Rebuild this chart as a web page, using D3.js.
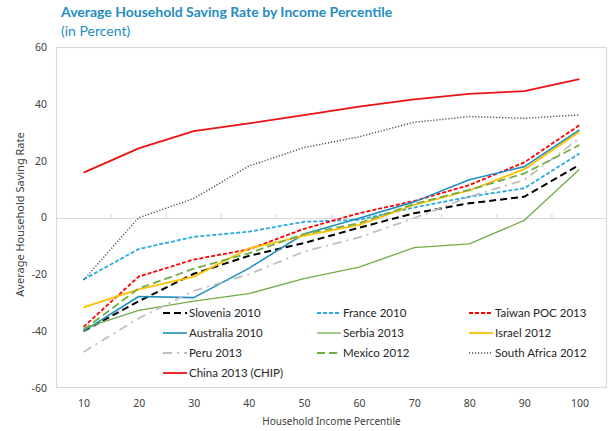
<!DOCTYPE html>
<html>
<head>
<meta charset="utf-8">
<script src="https://cdnjs.cloudflare.com/ajax/libs/d3/7.8.5/d3.min.js"></script>
<style>
  body { margin: 0; background: #fff; }
  svg { display: block; }
  .axis text { font-family: "Noto Sans", sans-serif; font-size: 10.5px; fill: #404040; }
</style>
</head>
<body>
<svg id="chart"></svg>
<script>
// percentiles on the x axis
var percentiles = [10, 20, 30, 40, 50, 60, 70, 80, 90, 100];
var yTicks = [-60, -40, -20, 0, 20, 40, 60];

// saving rates
var slovenia = [-40, -29.5, -19.8, -13.5, -9, -3.6, 1.5, 5, 7.3, 18.5];
var france = [-21.8, -11.1, -6.8, -5, -1.5, -0.8, 3.5, 7.3, 10.3, 22.5];
var taiwan = [-38.5, -20.8, -14.8, -11.2, -4, 1.5, 5.8, 11.4, 19.4, 32.5];
var australia = [-40, -27.8, -28.2, -17.9, -5.8, -0.3, 5.5, 13.3, 17.9, 30.8];
var serbia = [-39, -32.7, -29.4, -26.8, -21.5, -17.5, -10.6, -9.3, -1, 17];
var israel = [-31.6, -25.3, -20.8, -10.9, -6.5, -2.6, 4.4, 9.5, 17, 30.2];
var peru = [-47.3, -35.5, -25.8, -20, -12, -7, -0.2, 7.3, 13.2, 27.9];
var mexico = [-39.5, -25, -18, -12.6, -5.8, -2, 4.8, 9.7, 15.5, 25.5];
var southAfrica = [-22, -0.1, 6.7, 18.1, 24.6, 28.4, 33.5, 35.5, 34.9, 36.1];
var china = [15.8, 24.3, 30.4, 33.1, 36, 39, 41.6, 43.5, 44.5, 48.7];

var series = [
  { name: "Slovenia 2010", values: slovenia, color: "#000000", dash: "7,4", width: 2 },
  { name: "France 2010", values: france, color: "#29abe2", dash: "4,2", width: 1.8 },
  { name: "Taiwan POC 2013", values: taiwan, color: "#ff0000", dash: "4,2", width: 1.8 },
  { name: "Australia 2010", values: australia, color: "#1f8fc0", dash: null, width: 1.6 },
  { name: "Serbia 2013", values: serbia, color: "#70ad47", dash: null, width: 1.3 },
  { name: "Israel 2012", values: israel, color: "#ffc000", dash: null, width: 1.8 },
  { name: "Peru 2013", values: peru, color: "#bfbfbf", dash: "9,5,2,5", width: 1.8 },
  { name: "Mexico 2012", values: mexico, color: "#70ad47", dash: "8,4", width: 1.8 },
  { name: "South Africa 2012", values: southAfrica, color: "#44546a", dash: "1.2,1.8", width: 1.5 },
  { name: "China 2013 (CHIP)", values: china, color: "#ee1111", dash: null, width: 1.8 }
];

var W = 613, H = 431;
var margin = { top: 47, right: 6, bottom: 43, left: 56 };

var svg = d3.select("#chart").attr("width", W).attr("height", H);

var x = d3.scalePoint()
  .domain(percentiles)
  .range([margin.left, W - margin.right])
  .padding(0.5);

var y = d3.scaleLinear()
  .domain([-60, 60])
  .range([H - margin.bottom, margin.top]);

// title
svg.append("text")
  .attr("x", 61).attr("y", 17)
  .style("font-family", "Lato, sans-serif")
  .style("font-weight", "bold")
  .style("font-size", "14px")
  .style("fill", "#1f8dc1")
  .text("Average Household Saving Rate by Income Percentile");

svg.append("text")
  .attr("x", 61).attr("y", 36)
  .style("font-family", "Lato, sans-serif")
  .style("font-size", "14px")
  .style("fill", "#1f8dc1")
  .text("(in Percent)");

// plot frame
svg.append("rect")
  .attr("x", margin.left + 0.5)
  .attr("y", margin.top + 0.5)
  .attr("width", W - margin.left - margin.right - 1)
  .attr("height", H - margin.top - margin.bottom - 1)
  .attr("fill", "none")
  .attr("stroke", "#d9d9d9")
  .attr("stroke-width", 1.2);

// y axis labels (plain hyphen for negatives, like the source)
var yAxis = svg.append("g")
  .attr("class", "axis")
  .attr("transform", "translate(" + margin.left + ",0)")
  .call(d3.axisLeft(y).tickValues(yTicks).tickSize(0).tickPadding(9)
    .tickFormat(function (d) { return String(d); }));
yAxis.select(".domain").remove();

// x axis labels
var xAxis = svg.append("g")
  .attr("class", "axis")
  .attr("transform", "translate(0," + (H - margin.bottom) + ")")
  .call(d3.axisBottom(x).tickSize(0).tickPadding(12));
xAxis.select(".domain").remove();

// zero line with small ticks between categories
var step = x.step();
svg.append("line")
  .attr("x1", margin.left).attr("x2", W - margin.right)
  .attr("y1", Math.round(y(0)) + 0.5).attr("y2", Math.round(y(0)) + 0.5)
  .attr("stroke", "#d9d9d9")
  .attr("stroke-width", 1.2);

svg.append("g")
  .selectAll("line")
  .data(percentiles.slice(1))
  .enter()
  .append("line")
  .attr("x1", function (d) { return x(d) - step / 2; })
  .attr("x2", function (d) { return x(d) - step / 2; })
  .attr("y1", Math.round(y(0)) + 0.5)
  .attr("y2", Math.round(y(0)) - 4)
  .attr("stroke", "#d9d9d9")
  .attr("stroke-width", 1.2);

// axis titles
svg.append("text")
  .attr("x", (margin.left + W - margin.right) / 2)
  .attr("y", 425)
  .attr("text-anchor", "middle")
  .style("font-family", "Noto Sans, sans-serif")
  .style("font-size", "10px")
  .style("fill", "#404040")
  .text("Household Income Percentile");

svg.append("text")
  .attr("transform", "translate(24," + (y(0) - 3) + ") rotate(-90)")
  .attr("text-anchor", "middle")
  .style("font-family", "Noto Sans, sans-serif")
  .style("font-size", "11px")
  .style("fill", "#404040")
  .text("Average Household  Saving Rate");

// lines
var line = d3.line()
  .x(function (d, i) { return x(percentiles[i]); })
  .y(function (d) { return y(d); });

svg.append("g")
  .selectAll("path")
  .data(series)
  .enter()
  .append("path")
  .attr("d", function (d) { return line(d.values); })
  .attr("fill", "none")
  .attr("stroke", function (d) { return d.color; })
  .attr("stroke-width", function (d) { return d.width; })
  .attr("stroke-dasharray", function (d) { return d.dash; })
  .attr("stroke-linejoin", "round");

// legend, three columns
var legendCols = [163, 317, 469];
var legendRows = [313, 333, 353, 373];

var legend = svg.append("g")
  .selectAll("g")
  .data(series)
  .enter()
  .append("g")
  .attr("transform", function (d, i) {
    return "translate(" + legendCols[i % 3] + "," + legendRows[Math.floor(i / 3)] + ")";
  });

legend.append("line")
  .attr("x1", 0).attr("x2", 24)
  .attr("y1", 0).attr("y2", 0)
  .attr("stroke", function (d) { return d.color; })
  .attr("stroke-width", function (d) { return d.width; })
  .attr("stroke-dasharray", function (d) { return d.dash; });

legend.append("text")
  .attr("x", 26)
  .attr("y", 4)
  .style("font-family", "Lato, sans-serif")
  .style("font-size", "11.5px")
  .style("fill", "#262626")
  .text(function (d) { return d.name; });
</script>
</body>
</html>
